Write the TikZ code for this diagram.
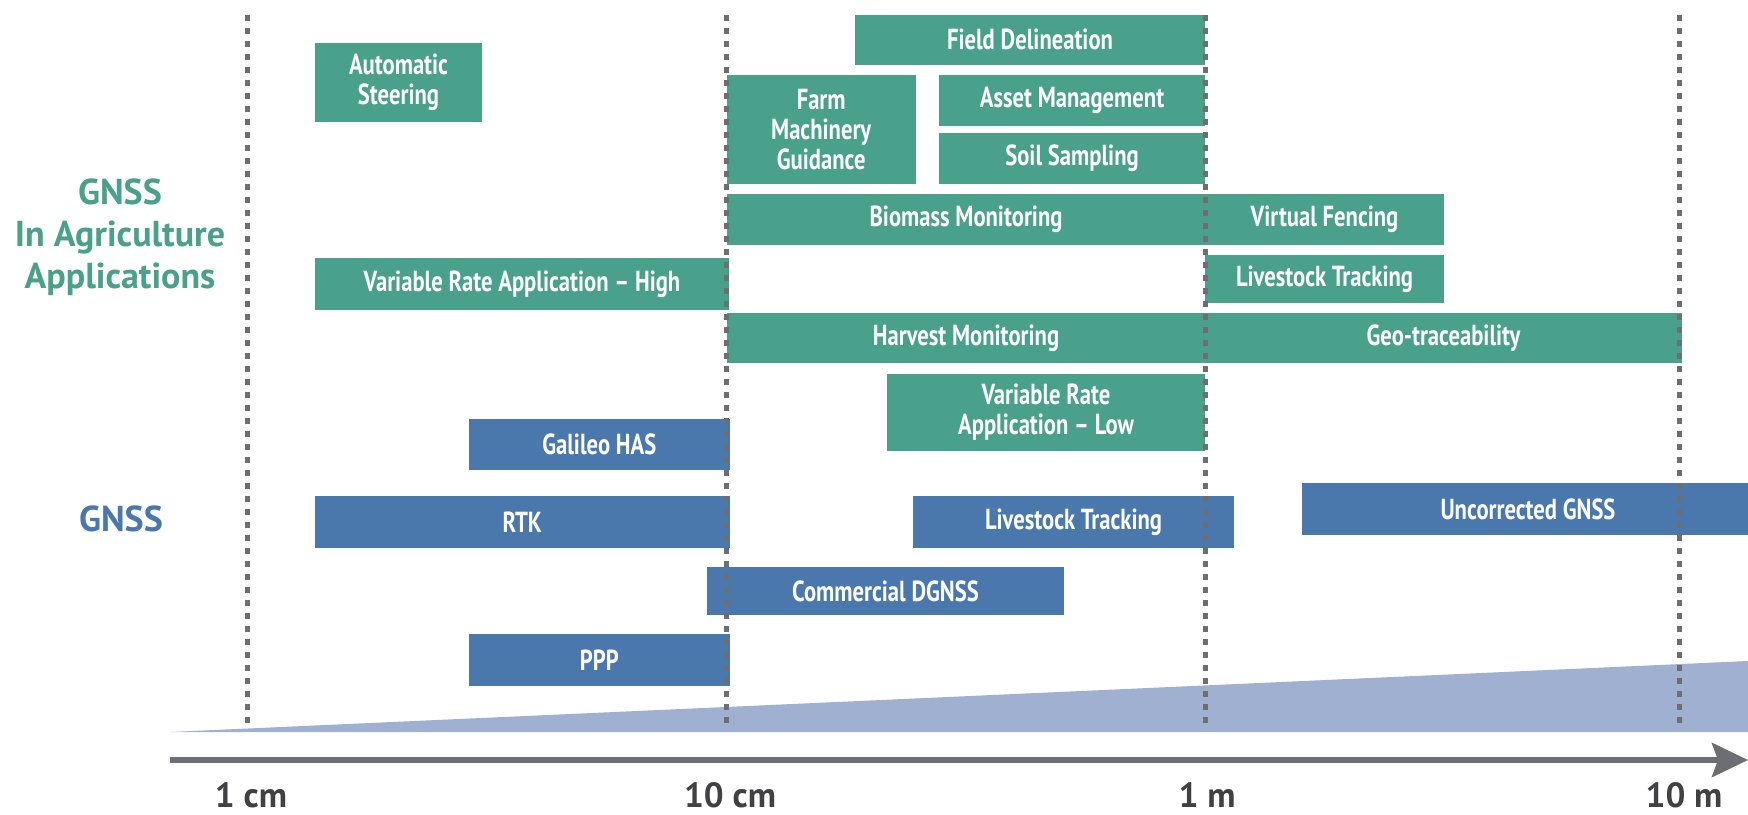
\documentclass[tikz,border=0pt]{standalone}
\usepackage{fontspec}
\setmainfont{PT Sans}
\newfontfamily\labelfont{PT Sans}[FakeStretch=0.78, Ligatures=TeX]
\usetikzlibrary{arrows.meta}
\definecolor{agrigreen}{HTML}{49A08B}
\definecolor{gnssblue}{HTML}{4A78AD}
\definecolor{wedgeblue}{HTML}{A0B0D0}
\definecolor{guidegray}{HTML}{6D6E71}
\definecolor{ticktext}{HTML}{414042}
\begin{document}
\begin{tikzpicture}[x=0.5pt,y=-0.5pt,
  bar/.style={inner sep=0pt, outer sep=0pt, text=white, align=center,
    font=\labelfont\bfseries\fontsize{14.5}{15}\selectfont},
  agri/.style={bar, fill=agrigreen},
  sat/.style={bar, fill=gnssblue},
  wh/.style 2 args={minimum width=#1, minimum height=#2},
  guide/.style={guidegray, line width=2.5pt, dash pattern=on 3pt off 3.5pt},
  axisline/.style={guidegray, line width=3pt,
    -{Stealth[length=18pt,width=17pt,inset=3pt]}},
  heading/.style={inner sep=0pt, align=center,
    font=\bfseries\fontsize{18}{21}\selectfont},
  scalelabel/.style={inner sep=0pt, anchor=base, text=ticktext,
    font=\bfseries\fontsize{17.5}{21}\selectfont}]

\useasboundingbox (0,0) rectangle (1748,814);
\fill[white] (0,0) rectangle (1748,814);
\clip (0,0) rectangle (1748,814);

% accuracy wedge along the scale
\fill[wedgeblue] (170,732) -- (1748,661) -- (1748,732) -- cycle;

% applications
\node[agri, wh={83.5pt}{39.5pt}] (autosteer) at (398.5,82.5) {Automatic\\Steering};
\node[agri, wh={175pt}{25pt}] (fielddel) at (1030,39.6) {Field Delineation};
\node[agri, wh={94.3pt}{54.3pt}] (farmguid) at (821.2,129.3) {Farm\\Machinery\\Guidance};
\node[agri, wh={133pt}{25.3pt}] (assetmgmt) at (1072,100.3) {Asset Management};
\node[agri, wh={133pt}{25.3pt}] (soilsamp) at (1072,158.3) {Soil Sampling};
\node[agri, wh={239pt}{25.3pt}] (biomass) at (966,219.3) {Biomass Monitoring};
\node[agri, wh={119.5pt}{25.3pt}] (vfence) at (1324.5,219.3) {Virtual Fencing};
\node[agri, wh={207pt}{26pt}] (vrahigh) at (522,284.2) {Variable Rate Application \textendash{} High};
\node[agri, wh={119.5pt}{23.9pt}] (lstrackagri) at (1324.5,278.8) {Livestock Tracking};
\node[agri, wh={239pt}{25pt}] (harvest) at (966,338) {Harvest Monitoring};
\node[agri, wh={238.5pt}{25pt}] (geotrace) at (1443.5,338) {Geo-traceability};
\node[agri, wh={159pt}{38.5pt}] (vralow) at (1046,412) {Variable Rate\\Application \textendash{} Low};

% positioning techniques
\node[sat, wh={130.3pt}{25.3pt}] (galileo) at (599.3,444.3) {Galileo HAS};
\node[sat, wh={207.4pt}{25.8pt}] (rtk) at (522.2,521.8) {RTK};
\node[sat, wh={160.5pt}{25.8pt}] (lstracksat) at (1073.5,521.8) {Livestock Tracking};
\node[sat, wh={226pt}{25.7pt}] (uncorr) at (1528,509) {Uncorrected GNSS};
\node[sat, wh={178.5pt}{23.7pt}] (cdgnss) at (885.5,591) {Commercial DGNSS};
\node[sat, wh={130.3pt}{25.8pt}] (ppp) at (599.3,659.8) {PPP};

% decade guides
\foreach \gx in {247,726,1205,1679}
  \draw[guide] (\gx,15) -- (\gx,728);

% accuracy axis
\coordinate (axstart) at (170,760);
\coordinate (axend) at (1748,760);
\draw[axisline] (axstart) -- (axend);

\node[scalelabel] (tcm1) at (251,807) {1 cm};
\node[scalelabel] (tcm10) at (730,807) {10 cm};
\node[scalelabel] (tm1) at (1207,807) {1 m};
\node[scalelabel] (tm10) at (1684,807) {10 m};

% row headings
\node[heading, anchor=north, text=agrigreen] (agrihead) at (120,178) {GNSS\\In Agriculture\\Applications};
\node[heading, text=gnssblue] (gnsshead) at (121,519) {GNSS};
\end{tikzpicture}
\end{document}
